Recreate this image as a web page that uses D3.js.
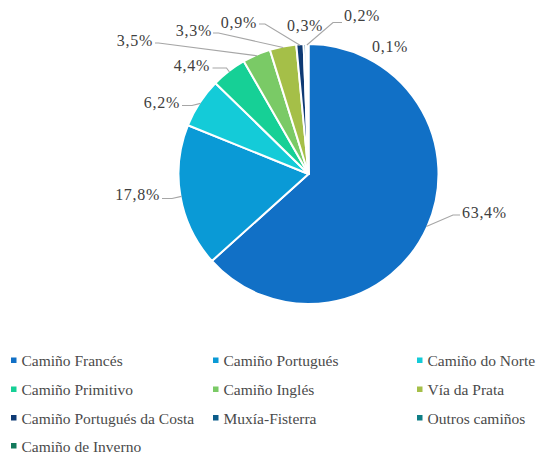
<!DOCTYPE html>
<html>
<head>
<meta charset="utf-8">
<script src="https://cdn.jsdelivr.net/npm/d3@7"></script>
<style>
  html, body { margin: 0; padding: 0; background: #fff; }
  svg { display: block; }
</style>
</head>
<body>
<svg id="chart" width="546" height="454"></svg>
<script>
// Share of pilgrims by route (%)
const routes = [
  "Camiño Francés", "Camiño Portugués", "Camiño do Norte", "Camiño Primitivo",
  "Camiño Inglés", "Vía da Prata", "Camiño Portugués da Costa", "Muxía-Fisterra",
  "Outros camiños", "Camiño de Inverno"
];
const shares = [63.4, 17.8, 6.2, 4.4, 3.5, 3.3, 0.9, 0.3, 0.2, 0.1];
const colors = [
  "#1170c6", "#0a9ad6", "#14cbd8", "#16d096", "#7aca66",
  "#a5bf48", "#0e3a74", "#0b5c8a", "#0e7e86", "#137a5c"
];

// Pick the first serif face that is actually installed
function pickFont(candidates, fallback) {
  const ctx = document.createElement("canvas").getContext("2d");
  const probe = "Camiño Portugués 0123456789 %,";
  const width = f => { ctx.font = "40px " + f; return ctx.measureText(probe).width; };
  const base = [width("monospace"), width("sans-serif")];
  for (const name of candidates) {
    const w = [width(`"${name}", monospace`), width(`"${name}", sans-serif`)];
    if (w[0] !== base[0] || w[1] !== base[1]) return `"${name}"`;
  }
  return fallback;
}
const fontFamily = pickFont(
  ["Liberation Serif", "Times New Roman", "Tinos", "DejaVu Serif", "Noto Serif", "FreeSerif", "Nimbus Roman"],
  "serif"
);

const svg = d3.select("#chart");
const cx = 308.5, cy = 174, r = 130;
const fmt = v => d3.format(".1f")(v).replace(".", ",") + "%";

const pie = d3.pie().sort(null).value(d => d)(shares);
const arc = d3.arc().innerRadius(0).outerRadius(r);
const edge = d3.arc().innerRadius(r - 1).outerRadius(r - 1);

const g = svg.append("g").attr("transform", `translate(${cx},${cy})`);

g.selectAll("path.slice")
  .data(pie)
  .join("path")
  .attr("class", "slice")
  .attr("d", arc)
  .attr("fill", (d, i) => colors[i])
  .attr("stroke", "#fff")
  .attr("stroke-width", 2)
  .attr("stroke-linejoin", "round");

// Label layout relative to the pie centre: text anchor point, side, and leader elbow
const labelLayout = [
  { x: 153.5,  y: 38,    anchor: "start", lead: [[151.5, 41], [144.5, 41]] },
  { x: -148.5, y: 20.5,  anchor: "end",   lead: [[-146.5, 24.5], [-136.5, 24.5]] },
  { x: -128.5, y: -72,   anchor: "end",   lead: [[-126.5, -68.5], [-116.5, -68.5]] },
  { x: -98.5,  y: -109,  anchor: "end",   lead: [[-96, -106], [-82, -106]] },
  { x: -155.5, y: -134,  anchor: "end",   lead: [[-153.5, -131], [-150, -131]] },
  { x: -96.5,  y: -144,  anchor: "end",   lead: [[-95.5, -141], [-90, -141]] },
  { x: -51.5,  y: -152,  anchor: "end",   lead: [[-49.5, -150], [-43.5, -150]] },
  { x: -21.5,  y: -149,  anchor: "start", lead: null },
  { x: 35.5,   y: -158.5, anchor: "start", lead: [[33.5, -151.5], [24.5, -151.5]] },
  { x: 63.5,   y: -128,  anchor: "start", lead: null }
];

const labels = g.append("g");
pie.forEach((d, i) => {
  const L = labelLayout[i];
  if (L.lead) {
    const p = edge.centroid(d);
    labels.append("polyline")
      .attr("points", [L.lead[0], L.lead[1], p].map(q => q.join(",")).join(" "))
      .attr("fill", "none")
      .attr("stroke", "#a6a6a6")
      .attr("stroke-width", 1.1);
  }
  labels.append("text")
    .attr("x", L.x)
    .attr("y", L.y)
    .attr("text-anchor", L.anchor)
    .attr("dominant-baseline", "central")
    .style("font-family", fontFamily)
    .attr("font-size", 16)
    .attr("letter-spacing", 0.7)
    .attr("fill", "#404040")
    .text(fmt(shares[i]));
});

// Legend: three columns
const colX = [11, 213, 417];
const rowY = [360, 389, 417.5, 445.5];
const legend = svg.append("g");
routes.forEach((name, i) => {
  const x = colX[i % 3], y = rowY[Math.floor(i / 3)];
  const item = legend.append("g").attr("transform", `translate(${x},${y})`);
  item.append("rect")
    .attr("x", 0).attr("y", -2.5)
    .attr("width", 5.5).attr("height", 5.5)
    .attr("fill", colors[i]);
  item.append("text")
    .attr("x", 10.5)
    .attr("y", 0.5)
    .attr("dominant-baseline", "central")
    .style("font-family", fontFamily)
    .attr("font-size", 15.5)
    .attr("fill", "#4a4a4a")
    .text(name);
});
</script>
</body>
</html>
